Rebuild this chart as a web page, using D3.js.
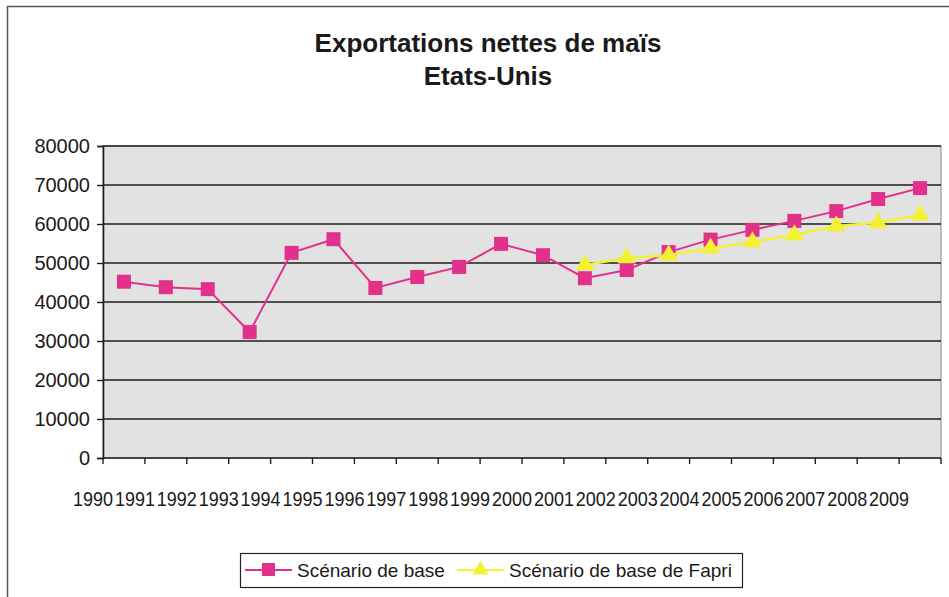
<!DOCTYPE html>
<html>
<head>
<meta charset="utf-8">
<script src="https://cdn.jsdelivr.net/npm/d3@7"></script>
<style>
  html, body { margin: 0; padding: 0; background: #fff; }
  svg { display: block; font-family: Arial, "Liberation Sans", sans-serif; }
</style>
</head>
<body>
<svg id="chart" width="949" height="597"></svg>
<script>
// ---- data ----
const years = ["1990","1991","1992","1993","1994","1995","1996","1997","1998","1999",
               "2000","2001","2002","2003","2004","2005","2006","2007","2008","2009"];
const baseScenario = [45200, 43800, 43300, 32300, 52600, 56100, 43600, 46400, 49000, 54900,
                      52000, 46100, 48200, 52800, 56000, 58500, 60800, 63300, 66400, 69200];
const fapriScenario = [null, null, null, null, null, null, null, null, null, null,
                       null, 49500, 51300, 52000, 53800, 55400, 57200, 59500, 60300, 62300];
const yTicks = [0, 10000, 20000, 30000, 40000, 50000, 60000, 70000, 80000];
const titleLines = ["Exportations nettes de maïs", "Etats-Unis"];
const seriesNames = ["Scénario de base", "Scénario de base de Fapri"];

// ---- layout ----
const svg = d3.select("#chart");
const plot = { left: 103, right: 941, top: 146, bottom: 458 };
const pink = "#e3308a";
const yellow = "#f4f032";

// chart outer frame
svg.append("rect")
  .attr("x", 7.5).attr("y", 6.5).attr("width", 1000).attr("height", 1000)
  .attr("fill", "#fff").attr("stroke", "#555").attr("stroke-width", 1.5);

// title
svg.append("g").selectAll("text").data(titleLines).join("text")
  .attr("x", 488).attr("y", (d, i) => 52 + i * 33)
  .attr("text-anchor", "middle")
  .attr("font-size", 26).attr("font-weight", "bold").attr("fill", "#1a1a1a")
  .text(d => d);

const x = d3.scaleBand().domain(years).range([plot.left, plot.right]).padding(0);
const y = d3.scaleLinear().domain([0, 80000]).range([plot.bottom, plot.top]);

// plot background
svg.append("rect")
  .attr("x", plot.left).attr("y", plot.top)
  .attr("width", plot.right - plot.left).attr("height", plot.bottom - plot.top)
  .attr("fill", "#e2e2e2").attr("stroke", "#888").attr("stroke-width", 1);

// gridlines
svg.append("g").selectAll("line").data(yTicks.filter(d => d > 0)).join("line")
  .attr("x1", plot.left).attr("x2", plot.right)
  .attr("y1", d => y(d)).attr("y2", d => y(d))
  .attr("stroke", "#1e1e1e").attr("stroke-width", 1.6);

// y axis
const yAxis = svg.append("g").attr("transform", `translate(${plot.left},0)`)
  .call(d3.axisLeft(y).tickValues(yTicks).tickSize(6).tickPadding(7).tickFormat(d3.format("d")));
yAxis.select(".domain").attr("stroke", "#1e1e1e").attr("stroke-width", 1.6);
yAxis.selectAll(".tick line").attr("stroke", "#1e1e1e").attr("stroke-width", 1.4);
yAxis.selectAll(".tick text").attr("font-size", 20).attr("fill", "#1a1a1a")
  .attr("font-family", "Arial, 'Liberation Sans', sans-serif");

// x axis (ticks at category boundaries)
const xb = svg.append("g");
xb.append("line").attr("x1", plot.left).attr("x2", plot.right)
  .attr("y1", plot.bottom).attr("y2", plot.bottom)
  .attr("stroke", "#1e1e1e").attr("stroke-width", 1.6);
const bounds = years.map(d => x(d)).concat([x(years[years.length - 1]) + x.bandwidth()]);
xb.selectAll("line.tk").data(bounds).join("line").attr("class", "tk")
  .attr("x1", d => d).attr("x2", d => d)
  .attr("y1", plot.bottom).attr("y2", plot.bottom + 6)
  .attr("stroke", "#1e1e1e").attr("stroke-width", 1.4);
xb.selectAll("text").data(years).join("text")
  .attr("transform", d => `translate(${x(d) - 10},506) scale(1,1.17)`)
  .attr("text-anchor", "middle")
  .attr("font-size", 18).attr("fill", "#1a1a1a")
  .text(d => d);

const cx = d => x(d) + x.bandwidth() / 2;

// base scenario
const baseData = years.map((yr, i) => ({ yr, v: baseScenario[i] }));
svg.append("path").datum(baseData)
  .attr("fill", "none").attr("stroke", pink).attr("stroke-width", 2)
  .attr("d", d3.line().x(d => cx(d.yr)).y(d => y(d.v)));
svg.append("g").selectAll("rect").data(baseData).join("rect")
  .attr("x", d => cx(d.yr) - 7).attr("y", d => y(d.v) - 7)
  .attr("width", 14).attr("height", 14).attr("fill", pink);

// Fapri scenario
const fapriData = years.map((yr, i) => ({ yr, v: fapriScenario[i] })).filter(d => d.v != null);
svg.append("path").datum(fapriData)
  .attr("fill", "none").attr("stroke", yellow).attr("stroke-width", 2.5)
  .attr("d", d3.line().x(d => cx(d.yr)).y(d => y(d.v)));
const tri = d3.symbol().type(d3.symbolTriangle).size(150);
svg.append("g").selectAll("path").data(fapriData).join("path")
  .attr("transform", d => `translate(${cx(d.yr)},${y(d.v)})`)
  .attr("d", tri).attr("fill", yellow);

// legend
const lg = svg.append("g");
lg.append("rect").attr("x", 240.5).attr("y", 553.5).attr("width", 502).attr("height", 34)
  .attr("fill", "#fff").attr("stroke", "#222").attr("stroke-width", 1.2);
const lgItems = [
  { name: seriesNames[0], color: pink, x0: 245, type: "sq" },
  { name: seriesNames[1], color: yellow, x0: 457, type: "tri" }
];
lgItems.forEach(it => {
  lg.append("line").attr("x1", it.x0).attr("x2", it.x0 + 47)
    .attr("y1", 570).attr("y2", 570).attr("stroke", it.color).attr("stroke-width", 2);
  if (it.type === "sq") {
    lg.append("rect").attr("x", it.x0 + 17).attr("y", 563).attr("width", 13).attr("height", 13)
      .attr("fill", it.color);
  } else {
    lg.append("path").attr("transform", `translate(${it.x0 + 23.5},570)`)
      .attr("d", d3.symbol().type(d3.symbolTriangle).size(110)()).attr("fill", it.color);
  }
  lg.append("text").attr("x", it.x0 + 52).attr("y", 577)
    .attr("font-size", 19).attr("fill", "#1a1a1a").text(it.name);
});
</script>
</body>
</html>
